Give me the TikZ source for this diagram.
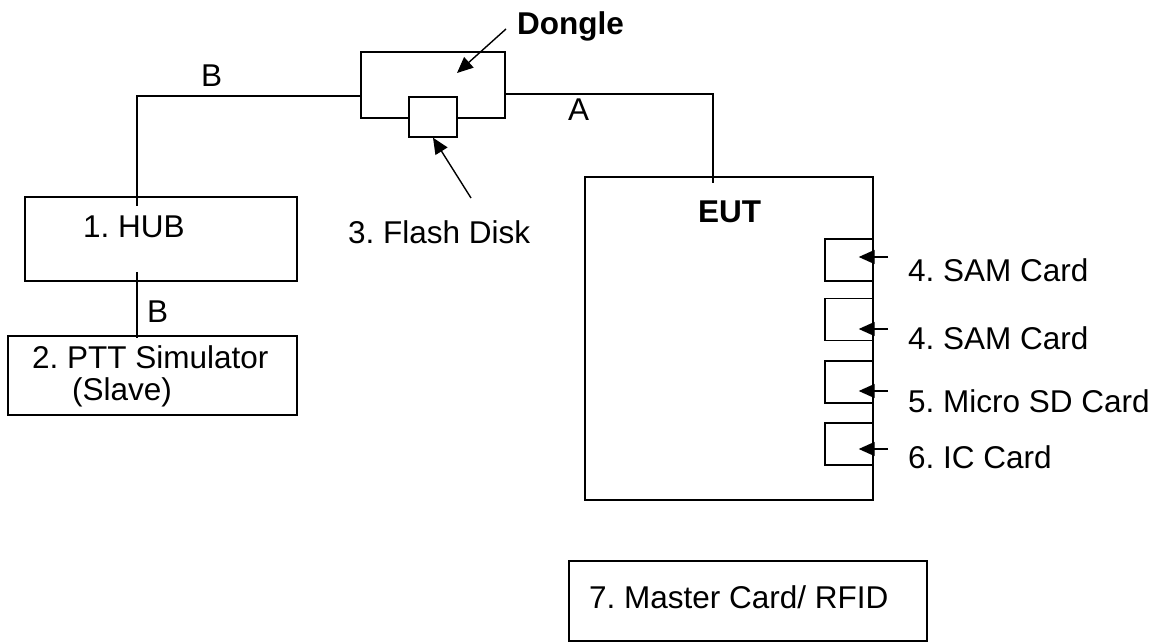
\documentclass[tikz,border=0pt]{standalone}
\usepackage{fontspec}
\setmainfont{Liberation Sans}
\usetikzlibrary{arrows.meta}
\frenchspacing
\begin{document}
\begin{tikzpicture}[x=1pt,y=-1pt,
  wire/.style={line width=1.4pt},
  box/.style={draw, line width=1.4pt, rectangle, inner sep=0pt},
  lbl/.style={inner sep=0pt, anchor=base west, font=\fontsize{31.5}{36}\selectfont},
  blbl/.style={inner sep=0pt, anchor=base west, font=\fontsize{31.5}{36}\selectfont\bfseries},
  pointer/.style={line width=1.4pt, -{Triangle[length=16pt 0 0,width=14pt 0 0]}}]
\useasboundingbox (0,0) rectangle (1157,644);

% boxes
\node[box, minimum width=272pt, minimum height=84pt] (hub) at (161,239) {};
\node[box, minimum width=289pt, minimum height=79pt] (ptt) at (152.5,375.5) {};
\node[box, minimum width=144pt, minimum height=66pt] (dongle) at (433,85) {};
\node[box, fill=white, minimum width=48pt, minimum height=40pt] (flash) at (433,117) {};
\node[box, minimum width=288pt, minimum height=323pt] (eut) at (729,338.5) {};
\node[box, minimum width=48pt, minimum height=42pt] (slot1) at (849,260) {};
\node[box, minimum width=48pt, minimum height=42pt] (slot2) at (849,319.5) {};
\node[box, minimum width=48pt, minimum height=42pt] (slot3) at (849,382) {};
\node[box, minimum width=48pt, minimum height=42pt] (slot4) at (849,444) {};
\node[box, minimum width=358pt, minimum height=80pt] (master) at (748,601) {};

% texts
\node[blbl] (tdongle) at (517,35) {Dongle};
\node[lbl] (tb1) at (201,87) {B};
\node[lbl] (ta) at (568,121) {A};
\node[lbl] (thub) at (83,238) {1. HUB};
\node[lbl] (tb2) at (147,323) {B};
\node[lbl] (tptt) at (32,368) {2. PTT Simulator};
\node[lbl] (tslave) at (72,400) {(Slave)};
\node[lbl] (tflash) at (348,244) {3. Flash Disk};
\node[blbl] (teut) at (698,223) {EUT};
\node[lbl] (ts1) at (908,282) {4. SAM Card};
\node[lbl] (ts2) at (908,349) {4. SAM Card};
\node[lbl] (ts3) at (908,412) {5. Micro SD Card};
\node[lbl] (ts4) at (908,468) {6. IC Card};
\node[lbl] (tmaster) at (589,608) {7. Master Card/ RFID};

% connectors
\coordinate (hubtop) at (137,206);
\coordinate (dongleB) at (361,96);
\draw[wire] (hubtop) |- (dongleB);
\coordinate (hubbot) at (137,272);
\coordinate (pttin) at (137,338);
\draw[wire] (hubbot) -- (pttin);
\coordinate (dongleA) at (505,94);
\coordinate (eutin) at (713,183);
\draw[wire] (dongleA) -| (eutin);

% pointers
\coordinate (pd) at (506,29);
\draw[pointer] (pd) -- (457,73);
\coordinate (pf) at (471,198);
\draw[pointer] (pf) -- (flash.south);
\coordinate (p1) at (888,257);
\coordinate (p2) at (888,329);
\coordinate (p3) at (888,391);
\coordinate (p4) at (888,449);
\draw[pointer] (p1) -- ([xshift=-15pt]p1 -| slot1.east);
\draw[pointer] (p2) -- ([xshift=-15pt]p2 -| slot2.east);
\draw[pointer] (p3) -- ([xshift=-15pt]p3 -| slot3.east);
\draw[pointer] (p4) -- ([xshift=-15pt]p4 -| slot4.east);
\end{tikzpicture}
\end{document}
